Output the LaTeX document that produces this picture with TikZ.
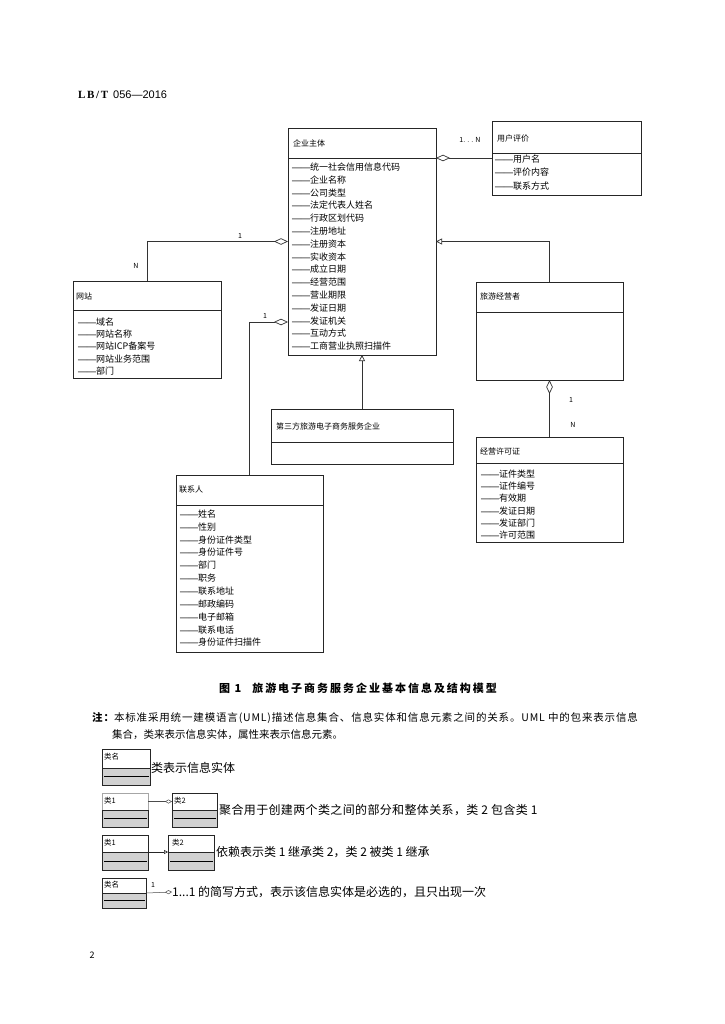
\documentclass[tikz,border=0pt]{standalone}
\usepackage{fontspec}
\setmainfont{Noto Sans CJK SC}
\newfontfamily\hdserif{Liberation Serif}
\newfontfamily\hdsans{Liberation Sans}
\usetikzlibrary{arrows.meta}
\tikzset{
  box/.style={draw=black!85, line width=0.8pt, anchor=north west, inner sep=0pt, outer sep=0pt, fill=white},
  sepline/.style={draw=black!85, line width=0.7pt},
  ttl/.style={anchor=west, inner sep=0pt, font=\fontsize{8}{9}\selectfont},
  attr/.style={anchor=west, inner sep=0pt, font=\fontsize{9}{10}\selectfont},
  lbl/.style={inner sep=0pt, font=\fontsize{7}{8}\selectfont},
  link/.style={draw=black!80, line width=0.7pt},
  agg/.style={link, {Diamond[open, length=14pt, width=6.5pt]}-},
  inh/.style={link, -{Triangle[open, length=6pt, width=6pt]}},
  lgtop/.style={draw=black!85, line width=0.6pt, anchor=north west, inner sep=0pt, outer sep=0pt, fill=white},
  lgbot/.style={lgtop, fill=black!18},
  lgname/.style={anchor=west, inner sep=0pt, font=\fontsize{7.5}{8}\selectfont},
  lgtext/.style={anchor=west, inner sep=0pt, font=\fontsize{12}{13}\selectfont},
  lagg/.style={draw=black!70, line width=0.5pt, -{Diamond[open, length=7pt, width=4pt]}},
  linh/.style={draw=black!85, line width=0.6pt, -{Triangle[open, length=4pt, width=4pt]}},
}
% #1 node, #2 dx, #3 dy of first line, #4 step, #5 list
\newcommand\attrlist[5]{%
  \foreach \aname [count=\i] in {#5}{%
    \node[attr] (#1-a\i) at ([xshift=#2pt, yshift={-(#3)-(#4)*(\i-1)}]#1.north west) {{\hdserif\bfseries ——}\aname};
  }}
\begin{document}
\begin{tikzpicture}[x=1pt,y=-1pt]
\fill[white] (0,0) rectangle (724,1024);
\useasboundingbox (0,0) rectangle (724,1024);

% header
\node[anchor=west, inner sep=0pt] (hdr) at (78,95) {\fontsize{11}{12}\selectfont{\hdserif\bfseries\addfontfeature{LetterSpace=15}LB/T}\hspace{5pt}{\hdsans 056—2016}};

% main class
\node[box, minimum width=148pt, minimum height=227pt] (main) at (288,128) {};
\draw[sepline] ([yshift=-30pt]main.north west) -- ([yshift=-30pt]main.north east);
\node[ttl] (main-t) at ([xshift=5pt,yshift=-15pt]main.north west) {企业主体};
\attrlist{main}{4}{39}{12.8}{统一社会信用信息代码,企业名称,公司类型,法定代表人姓名,行政区划代码,注册地址,注册资本,实收资本,成立日期,经营范围,营业期限,发证日期,发证机关,互动方式,工商营业执照扫描件}

% user review
\node[box, minimum width=149pt, minimum height=74pt] (user) at (492,121) {};
\draw[sepline] ([yshift=-32pt]user.north west) -- ([yshift=-32pt]user.north east);
\node[ttl] (user-t) at ([xshift=5pt,yshift=-17pt]user.north west) {用户评价};
\attrlist{user}{3}{38}{13.5}{用户名,评价内容,联系方式}

% website
\node[box, minimum width=148pt, minimum height=97pt] (web) at (73,281) {};
\draw[sepline] ([yshift=-29pt]web.north west) -- ([yshift=-29pt]web.north east);
\node[ttl] (web-t) at ([xshift=3pt,yshift=-15pt]web.north west) {网站};
\attrlist{web}{5}{41}{12.2}{域名,网站名称,网站ICP备案号,网站业务范围,部门}

% tourism operator
\node[box, minimum width=147pt, minimum height=98pt] (tour) at (476,282) {};
\draw[sepline] ([yshift=-30pt]tour.north west) -- ([yshift=-30pt]tour.north east);
\node[ttl] (tour-t) at ([xshift=4pt,yshift=-14pt]tour.north west) {旅游经营者};

% licence
\node[box, minimum width=147pt, minimum height=105pt] (lic) at (476,437) {};
\draw[sepline] ([yshift=-26pt]lic.north west) -- ([yshift=-26pt]lic.north east);
\node[ttl] (lic-t) at ([xshift=4pt,yshift=-14pt]lic.north west) {经营许可证};
\attrlist{lic}{5}{37}{12.2}{证件类型,证件编号,有效期,发证日期,发证部门,许可范围}

% third party
\node[box, minimum width=182pt, minimum height=55pt] (third) at (271,409) {};
\draw[sepline] ([yshift=-33pt]third.north west) -- ([yshift=-33pt]third.north east);
\node[ttl] (third-t) at ([xshift=5pt,yshift=-17pt]third.north west) {第三方旅游电子商务服务企业};

% contact
\node[box, minimum width=147pt, minimum height=177pt] (contact) at (176,475) {};
\draw[sepline] ([yshift=-30pt]contact.north west) -- ([yshift=-30pt]contact.north east);
\node[ttl] (contact-t) at ([xshift=3pt,yshift=-15pt]contact.north west) {联系人};
\attrlist{contact}{4}{39}{12.85}{姓名,性别,身份证件类型,身份证件号,部门,职务,联系地址,邮政编码,电子邮箱,联系电话,身份证件扫描件}

% connectors
\draw[agg] (main.east |- user.west) -- (user.west);
\draw[agg] (main.west) -| (web.north);
\draw[agg] ([yshift=-194pt]main.north west) -| (contact.north);
\draw[inh] (third.north) -- (main.south);
\draw[inh] (tour.north) |- (main.east);
\draw[agg] (tour.south) -- (lic.north);

% multiplicities
\node[lbl] (l-un) at (470,140) {1. . . N};
\node[lbl] (l-w1) at (240,236) {1};
\node[lbl] (l-wn) at (136,266) {N};
\node[lbl] (l-c1) at (265,316) {1};
\node[lbl] (l-t1) at (571,400) {1};
\node[lbl] (l-tn) at (573,425) {N};

% caption
\node[inner sep=0pt, font=\fontsize{11}{12}\selectfont\bfseries] (cap) at (358,688) {\addfontfeature{LetterSpace=18}图 1\hspace{1em}旅游电子商务服务企业基本信息及结构模型};

% note
\node[anchor=west, inner sep=0pt, font=\fontsize{10.5}{12}\selectfont] (note1) at (92,718) {\addfontfeature{LetterSpace=8}{\bfseries 注：}本标准采用统一建模语言(UML)描述信息集合、信息实体和信息元素之间的关系。UML 中的包来表示信息};
\node[anchor=west, inner sep=0pt, font=\fontsize{10.5}{12}\selectfont] (note2) at (112,735) {集合，类来表示信息实体，属性来表示信息元素。};

% legend 1
\node[lgtop, minimum width=48pt, minimum height=19pt] (L1t) at (102,749) {};
\node[lgbot, minimum width=48pt, minimum height=17pt] (L1b) at (L1t.south west) {};
\draw[line width=0.6pt] ([xshift=2pt]L1b.west) -- ([xshift=-1pt]L1b.east);
\node[lgname] (L1n) at ([xshift=2pt,yshift=-8pt]L1t.north west) {类名};
\node[lgtext] (T1) at ([xshift=1pt]L1t.south east) {类表示信息实体};

% legend 2
\node[lgtop, draw=black!35, minimum width=46pt, minimum height=17pt] (L2at) at (102,793) {};
\node[lgbot, minimum width=46pt, minimum height=17pt] (L2ab) at (L2at.south west) {};
\draw[line width=0.6pt] ([xshift=2pt]L2ab.west) -- ([xshift=-1pt]L2ab.east);
\node[lgname] (L2an) at ([xshift=2pt,yshift=-8pt]L2at.north west) {类1};
\node[lgtop, minimum width=45pt, minimum height=17pt] (L2bt) at (172,793) {};
\node[lgbot, minimum width=45pt, minimum height=17pt] (L2bb) at (L2bt.south west) {};
\draw[line width=0.6pt] ([xshift=2pt]L2bb.west) -- ([xshift=-1pt]L2bb.east);
\node[lgname] (L2bn) at ([xshift=2pt,yshift=-8pt]L2bt.north west) {类2};
\draw[lagg] (L2at.east) -- (L2bt.west);
\node[lgtext] (T2) at ([xshift=2pt]L2bt.south east) {\addfontfeature{LetterSpace=3}聚合用于创建两个类之间的部分和整体关系，类 2 包含类 1};

% legend 3
\node[lgtop, minimum width=46pt, minimum height=17pt] (L3at) at (102,835) {};
\node[lgbot, minimum width=46pt, minimum height=18pt] (L3ab) at (L3at.south west) {};
\draw[line width=0.6pt] ([xshift=2pt]L3ab.west) -- ([xshift=-1pt]L3ab.east);
\node[lgname] (L3an) at ([xshift=2pt,yshift=-8pt]L3at.north west) {类1};
\node[lgtop, minimum width=46pt, minimum height=17pt] (L3bt) at (168,835) {};
\node[lgbot, minimum width=46pt, minimum height=18pt] (L3bb) at (L3bt.south west) {};
\draw[line width=0.6pt] ([xshift=2pt]L3bb.west) -- ([xshift=-1pt]L3bb.east);
\node[lgname] (L3bn) at ([xshift=4pt,yshift=-8pt]L3bt.north west) {类2};
\draw[linh] (L3at.south east) -- (L3bt.south west);
\node[lgtext] (T3) at ([xshift=2pt]L3bt.south east) {依赖表示类 1 继承类 2，类 2 被类 1 继承};

% legend 4
\node[lgtop, minimum width=44pt, minimum height=15pt] (L4t) at (102,878) {};
\node[lgbot, minimum width=44pt, minimum height=15pt] (L4b) at (L4t.south west) {};
\draw[line width=0.6pt] ([xshift=2pt]L4b.west) -- ([xshift=-1pt]L4b.east);
\node[lgname] (L4n) at ([xshift=2pt,yshift=-7pt]L4t.north west) {类名};
\node[lgtext] (T4) at (172,892) {1...1 的简写方式，表示该信息实体是必选的，且只出现一次};
\draw[lagg] (L4t.south east) -- (T4.west);
\node[lbl] (L4m) at (153,885) {1};

% page number
\node[inner sep=0pt, font=\fontsize{9}{10}\selectfont] (pg) at (92,955) {2};
\end{tikzpicture}
\end{document}
